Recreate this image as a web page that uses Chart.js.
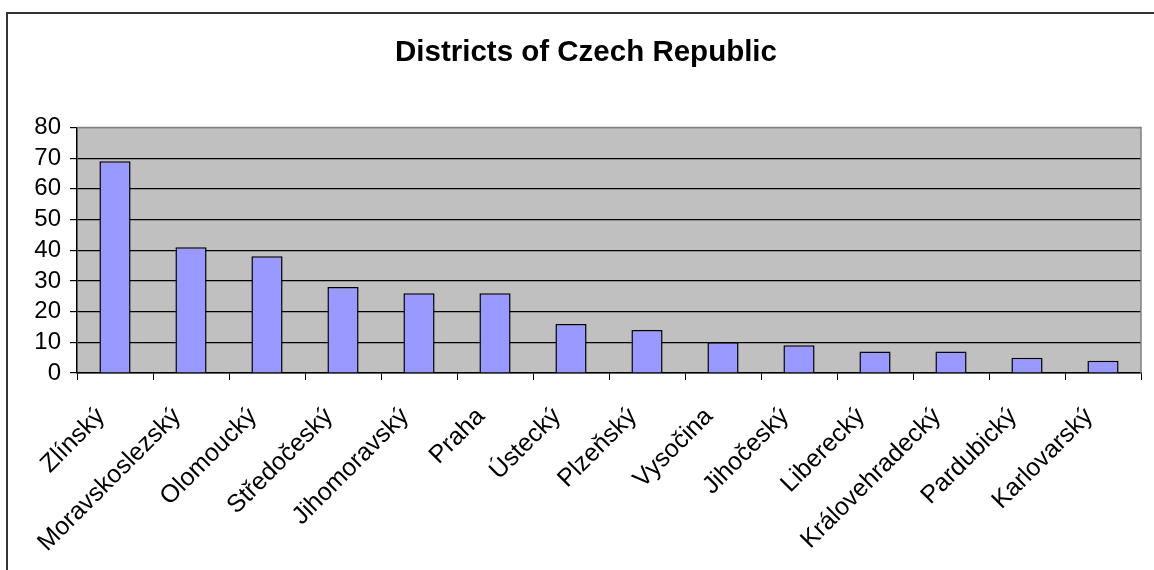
<!DOCTYPE html>
<html lang="en">
<head>
  <meta charset="UTF-8">
  <title>Districts of Czech Republic</title>
  <style>
    body { margin: 0; background: #fff; overflow: hidden; }
    .moldura {
      position: absolute; left: 6px; top: 12px;
      width: 1156px; height: 600px;
      border: 2px solid #333;
    }
  </style>
</head>
<body>
  <div class="moldura">
    <canvas id="grafico" width="1156" height="600"></canvas>
  </div>

<script src="https://cdn.jsdelivr.net/npm/chart.js"></script>
<script>
  // dados do grafico
  const categorias = ['Zlínský', 'Moravskoslezský', 'Olomoucký', 'Středočeský', 'Jihomoravský', 'Praha',
    'Ústecký', 'Plzeňský', 'Vysočina', 'Jihočeský', 'Liberecký', 'Královehradecký', 'Pardubický', 'Karlovarský'];
  const valores = [69, 41, 38, 28, 26, 26, 16, 14, 10, 9, 7, 7, 5, 4];
  const ticksY = [0, 10, 20, 30, 40, 50, 60, 70, 80];
  const titulo = 'Districts of Czech Republic';

  const fonte = '"Liberation Sans", Arial, sans-serif';

  // fundo cinza da area do grafico + borda cinza
  const fundoPlot = {
    id: 'fundoPlot',
    beforeDraw(chart) {
      const a = chart.chartArea, ctx = chart.ctx;
      ctx.save();
      ctx.fillStyle = '#C0C0C0';
      ctx.fillRect(a.left, a.top, a.right - a.left, a.bottom - a.top);
      ctx.restore();
    },
    afterDatasetsDraw(chart) {
      const a = chart.chartArea, ctx = chart.ctx;
      ctx.save();
      ctx.strokeStyle = '#808080';
      ctx.lineWidth = 1.5;
      ctx.beginPath();
      ctx.moveTo(a.left, a.top);
      ctx.lineTo(a.right, a.top);
      ctx.lineTo(a.right, a.bottom);
      ctx.stroke();
      ctx.restore();
    }
  };

  new Chart(document.getElementById('grafico'), {
    type: 'bar',
    data: {
      labels: categorias,
      datasets: [{
        data: valores,
        backgroundColor: '#9999FF',
        borderColor: '#000',
        borderWidth: 1.5,
        barPercentage: 0.41,
        categoryPercentage: 1
      }]
    },
    options: {
      responsive: false,
      animation: false,
      layout: { padding: { left: 23, right: 23, top: 0, bottom: 0 } },
      plugins: {
        legend: { display: false },
        tooltip: { enabled: false },
        title: {
          display: true,
          text: titulo,
          color: '#000',
          font: { family: fonte, size: 29.5, weight: 'bold' },
          padding: { top: 21, bottom: 57 }
        }
      },
      scales: {
        x: {
          offset: true,
          grid: { drawOnChartArea: false, drawTicks: true, tickLength: 7, color: '#000', offset: true },
          border: { display: true, color: '#000', width: 1.5 },
          ticks: {
            color: '#000',
            font: { family: fonte, size: 25 },
            minRotation: 45, maxRotation: 45,
            autoSkip: false,
            padding: 22,
            labelOffset: -14
          },
          afterFit(scale) { scale.height = 241; }
        },
        y: {
          min: 0, max: 80,
          afterBuildTicks(scale) { scale.ticks = ticksY.map(v => ({ value: v })); },
          grid: {
            color: ctx => (ctx.tick && ctx.tick.value === 80 ? '#808080' : '#000'),
            tickColor: '#000',
            tickLength: 7,
            lineWidth: 1.2
          },
          border: { display: true, color: '#000', width: 1.5 },
          ticks: {
            color: '#000',
            font: { family: fonte, size: 24 },
            padding: 9,
            autoSkip: false
          },
          afterFit(scale) { scale.width = 46; }
        }
      }
    },
    plugins: [fundoPlot]
  });
</script>
</body>
</html>
